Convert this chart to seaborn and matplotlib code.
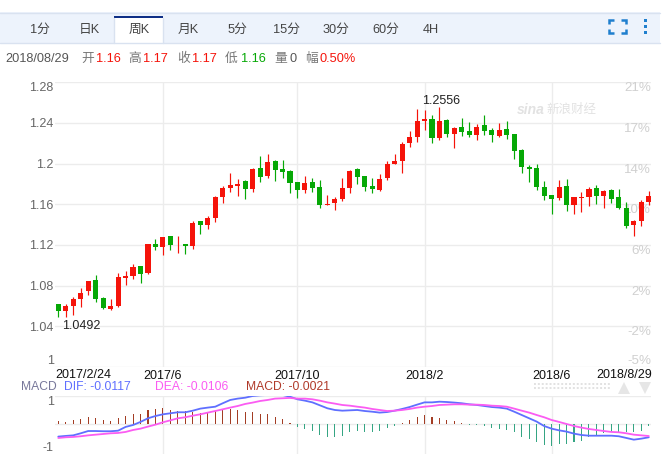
import matplotlib
matplotlib.use("Agg")
import matplotlib.pyplot as plt
from matplotlib.patches import Rectangle
import numpy as np
import seaborn as sns

# weekly candles, one entry per week
opens = [1.0616, 1.0547, 1.0596, 1.0665, 1.0744, 1.0852, 1.0675, 1.0567, 1.0596, 1.0872,
         1.0891, 1.0990, 1.0921, 1.1206, 1.1177, 1.1285, 1.1196, 1.1206, 1.1187, 1.1433,
         1.1393, 1.1462, 1.1669, 1.1757, 1.1778, 1.1827, 1.1748, 1.1954, 1.1876, 1.2023,
         1.1945, 1.1925, 1.1817, 1.1738, 1.1817, 1.1767, 1.1590, 1.1610, 1.1649, 1.1758,
         1.1945, 1.1876, 1.1777, 1.1738, 1.1856, 1.1994, 1.2023, 1.2200, 1.2260, 1.2417,
         1.2437, 1.2250, 1.2427, 1.2289, 1.2358, 1.2319, 1.2279, 1.2378, 1.2328, 1.2269,
         1.2338, 1.2289, 1.2132, 1.1964, 1.1954, 1.1767, 1.1689, 1.1659, 1.1777, 1.1590,
         1.1659, 1.1669, 1.1758, 1.1679, 1.1738, 1.1669, 1.1561, 1.1394, 1.1433, 1.1620]
closes = [1.0547, 1.0596, 1.0665, 1.0724, 1.0842, 1.0665, 1.0580, 1.0596, 1.0881, 1.0891,
          1.0980, 1.0911, 1.1206, 1.1177, 1.1275, 1.1196, 1.1203, 1.1187, 1.1413, 1.1393,
          1.1462, 1.1669, 1.1757, 1.1787, 1.1804, 1.1748, 1.1945, 1.1866, 1.2014, 1.1935,
          1.1915, 1.1807, 1.1738, 1.1807, 1.1758, 1.1590, 1.1607, 1.1649, 1.1758, 1.1925,
          1.1866, 1.1767, 1.1748, 1.1846, 1.1994, 1.2023, 1.2191, 1.2260, 1.2417, 1.2437,
          1.2250, 1.2417, 1.2289, 1.2348, 1.2309, 1.2279, 1.2358, 1.2319, 1.2279, 1.2328,
          1.2279, 1.2122, 1.1964, 1.1948, 1.1767, 1.1679, 1.1649, 1.1767, 1.1590, 1.1669,
          1.1669, 1.1748, 1.1679, 1.1728, 1.1649, 1.1561, 1.1384, 1.1433, 1.1620, 1.1679]
highs = [1.0622, 1.0622, 1.0691, 1.0773, 1.0842, 1.0901, 1.0685, 1.0668, 1.0927, 1.0944,
         1.1016, 1.0990, 1.1206, 1.1262, 1.1275, 1.1285, 1.1292, 1.1206, 1.1439, 1.1433,
         1.1482, 1.1679, 1.1777, 1.1905, 1.1846, 1.1836, 1.1961, 1.2073, 1.2092, 1.2033,
         1.2033, 1.1935, 1.1817, 1.1876, 1.1856, 1.1836, 1.1689, 1.1676, 1.1856, 1.1935,
         1.1961, 1.1876, 1.1856, 1.1895, 1.2023, 1.2092, 1.2214, 1.2322, 1.2538, 1.2525,
         1.2476, 1.2556, 1.2437, 1.2364, 1.2446, 1.2414, 1.2387, 1.2476, 1.2348, 1.2397,
         1.2417, 1.2289, 1.2141, 1.1984, 1.1994, 1.1827, 1.1689, 1.1836, 1.1846, 1.1669,
         1.1718, 1.1768, 1.1787, 1.1745, 1.1748, 1.1748, 1.1620, 1.1443, 1.1640, 1.1728]
lows = [1.0492, 1.0492, 1.0511, 1.0590, 1.0708, 1.0639, 1.0570, 1.0557, 1.0586, 1.0809,
        1.0862, 1.0826, 1.0911, 1.1147, 1.1098, 1.1154, 1.1124, 1.1108, 1.1160, 1.1305,
        1.1354, 1.1423, 1.1610, 1.1718, 1.1682, 1.1656, 1.1725, 1.1817, 1.1856, 1.1833,
        1.1856, 1.1712, 1.1663, 1.1712, 1.1725, 1.1567, 1.1590, 1.1548, 1.1630, 1.1708,
        1.1804, 1.1728, 1.1708, 1.1731, 1.1836, 1.1994, 1.1912, 1.2161, 1.2210, 1.2328,
        1.2200, 1.2230, 1.2260, 1.2151, 1.2269, 1.2260, 1.2237, 1.2279, 1.2210, 1.2260,
        1.2246, 1.2050, 1.1905, 1.1817, 1.1745, 1.1640, 1.1502, 1.1643, 1.1535, 1.1502,
        1.1522, 1.1581, 1.1600, 1.1567, 1.1610, 1.1551, 1.1364, 1.1292, 1.1384, 1.1590]

dif = [-.0111, -.0105, -.0100, -.0082, -.0062, -.0062, -.0064, -.0064, -.0059, -.0026,
       -.0009, .0018, .0050, .0070, .0085, .0094, .0103, .0103, .0117, .0135,
       .0144, .0152, .0182, .0211, .0223, .0231, .0246, .0252, .0255, .0255,
       .0255, .0240, .0217, .0205, .0190, .0164, .0138, .0123, .0117, .0120,
       .0123, .0114, .0108, .0100, .0105, .0117, .0132, .0149, .0170, .0190,
       .0190, .0196, .0193, .0188, .0182, .0173, .0167, .0158, .0149, .0144,
       .0135, .0108, .0079, .0050, .0021, -.0018, -.0041, -.0056, -.0067, -.0085,
       -.0097, -.0103, -.0103, -.0103, -.0103, -.0108, -.0123, -.0138, -.0129, -.0117]
dea = [-.0123, -.0117, -.0114, -.0108, -.0100, -.0094, -.0088, -.0082, -.0079, -.0070,
       -.0053, -.0041, -.0023, -.0006, .0015, .0032, .0050, .0059, .0073, .0085,
       .0100, .0114, .0129, .0144, .0158, .0176, .0188, .0202, .0211, .0223,
       .0226, .0229, .0223, .0223, .0217, .0205, .0190, .0179, .0167, .0161,
       .0152, .0144, .0132, .0123, .0114, .0117, .0123, .0132, .0144, .0152,
       .0158, .0167, .0170, .0173, .0173, .0170, .0170, .0167, .0161, .0158,
       .0152, .0135, .0117, .0100, .0079, .0059, .0035, .0018, .0000, -.0018,
       -.0032, -.0044, -.0053, -.0062, -.0070, -.0073, -.0082, -.0094, -.0100, -.0106]
macd = [.0023, .0021, .0035, .0041, .0064, .0053, .0035, .0026, .0053, .0070,
        .0085, .0091, .0120, .0129, .0138, .0126, .0114, .0111, .0103, .0097,
        .0097, .0111, .0123, .0129, .0126, .0105, .0105, .0091, .0085, .0064,
        .0044, .0006, -.0029, -.0044, -.0064, -.0094, -.0111, -.0117, -.0105, -.0073,
        -.0064, -.0070, -.0073, -.0062, -.0038, -.0021, .0009, .0035, .0062, .0076,
        .0059, .0056, .0038, .0026, .0006, -.0006, -.0009, -.0021, -.0038, -.0044,
        -.0050, -.0073, -.0111, -.0132, -.0161, -.0188, -.0193, -.0179, -.0176, -.0161,
        -.0147, -.0117, -.0103, -.0079, -.0073, -.0073, -.0073, -.0073, -.0059, -.0021]

price_ticks = [1.0, 1.04, 1.08, 1.12, 1.16, 1.2, 1.24, 1.28]
price_labels = ["1", "1.04", "1.08", "1.12", "1.16", "1.2", "1.24", "1.28"]
pct_labels = ["-5%", "-2%", "2%", "6%", "10%", "14%", "17%", "21%"]
date_ticks = [14, 32, 49, 66]
date_labels = ["2017/6", "2017/10", "2018/2", "2018/6"]
tabs = ["1分", "日K", "周K", "月K", "5分", "15分", "30分", "60分", "4H"]
tab_x = [40, 89, 139, 188, 237, 287, 336, 386, 431]

RED = "#f5130a"
GREEN = "#06a806"
GRID = "#ececec"
W, H = 667, 454


def panel(fig, left, top, right, bottom):
    return fig.add_axes([left / W, 1 - bottom / H, (right - left) / W, (bottom - top) / H])


def draw_toolbar(ui):
    ui.add_patch(Rectangle((0, 12), 660, 31, fc="#edf3fc", ec="none"))
    ui.plot([0, 660], [12.5, 12.5], color="#d9e2f0", lw=1)
    ui.plot([0, 660], [43, 43], color="#d9e2f0", lw=1)
    ui.add_patch(Rectangle((114, 16), 49, 28, fc="white", ec="none"))
    ui.add_patch(Rectangle((114, 16), 49, 2, fc="#0f2f86", ec="none"))
    ui.plot([114, 114], [18, 43], color="#d9e2f0", lw=1)
    ui.plot([163, 163], [18, 43], color="#d9e2f0", lw=1)
    for name, x in zip(tabs, tab_x):
        ui.text(x, 30, name, ha="center", va="center", fontsize=9.2, color="#444444")

    # fullscreen and menu icons
    blue = "#1f7fce"
    for xs, ys in [([609, 609, 614], [24, 20, 20]), ([621, 626, 626], [20, 20, 24]),
                   ([609, 609, 614], [29, 33, 33]), ([621, 626, 626], [33, 33, 29])]:
        ui.plot(xs, ys, color=blue, lw=1.8, solid_capstyle="butt", solid_joinstyle="miter")
    for y in [20.5, 26.5, 32.5]:
        ui.add_patch(Rectangle((643.5, y - 1.5), 3, 3, fc=blue, ec="none"))


def draw_quote_row(ui):
    row = [("2018/08/29", 5, "#555555"), ("开", 81, "#777777"), ("1.16", 96, RED),
           ("高", 128, "#777777"), ("1.17", 143, RED), ("收", 177, "#777777"), ("1.17", 192, RED),
           ("低", 225, "#777777"), ("1.16", 241, GREEN), ("量", 274, "#777777"), ("0", 289, "#555555"),
           ("幅", 305, "#777777"), ("0.50%", 319, RED)]
    for s, x, c in row:
        ui.text(x, 59, s, ha="left", va="center", fontsize=9.2, color=c)


def draw_candles(ax, x):
    colors = [RED if c >= o else GREEN for o, c in zip(opens, closes)]
    ax.vlines(x, lows, highs, colors=colors, lw=0.85, zorder=3)
    body = np.maximum(np.abs(np.array(closes) - np.array(opens)), 0.0008)
    ax.bar(x, body, bottom=np.minimum(opens, closes), width=0.68, color=colors, lw=0, zorder=4)


def style_price_axis(ax):
    ax.set_xlim(-0.44, 79.3)
    ax.set_ylim(1.0, 1.28)
    ax.set_yticks(price_ticks, price_labels)
    ax.set_xticks(date_ticks, date_labels)
    ax.grid(True, color=GRID, lw=1)
    ax.set_axisbelow(True)
    sns.despine(ax=ax, left=True, bottom=True, top=True, right=True)
    ax.tick_params(axis="y", length=0, pad=1, labelsize=9, labelcolor="#666666")
    ax.tick_params(axis="x", length=0, pad=2, labelsize=9, labelcolor="#111111")
    labels = ax.get_yticklabels()
    labels[0].set_va("bottom")
    labels[-1].set_va("top")
    trans = ax.get_yaxis_transform()
    for p, s in zip(price_ticks, pct_labels):
        ax.text(1.0, p, s, transform=trans, ha="right", va="bottom" if s == "-5%" else "top",
                fontsize=9.6, color="#d0d0d0", zorder=2)
    ax.text(0, -0.008, "2017/2/24", transform=ax.transAxes, ha="left", va="top",
            fontsize=9, color="#111111")
    ax.text(1.002, -0.008, "2018/8/29", transform=ax.transAxes, ha="right", va="top",
            fontsize=9, color="#111111", clip_on=False)
    ax.annotate("1.0492", (1, 1.0492), xytext=(-3, -2), textcoords="offset points",
                ha="left", va="top", fontsize=9, color="#222222")
    ax.annotate("1.2556", (51, 1.2556), xytext=(1, 0), textcoords="offset points",
                ha="center", va="bottom", fontsize=9, color="#222222")


def draw_macd(ax, x):
    sign = ["up" if m >= 0 else "down" for m in macd]
    sns.barplot(x=x, y=macd, hue=sign, palette={"up": "#b8300f", "down": "#22b88a"},
                native_scale=True, dodge=False, width=0.14, legend=False, lw=0, ax=ax, zorder=3)
    sns.lineplot(x=x, y=dif, color="#5f6fff", lw=1.3, ax=ax, zorder=4)
    sns.lineplot(x=x, y=dea, color="#fb5cf2", lw=1.3, ax=ax, zorder=5)
    ax.set_xlim(-0.44, 79.3)
    ax.set_ylim(-0.0264, 0.0246)
    ax.set_yticks([-0.0264, 0, 0.0246], ["-1", "", "1"])
    ax.set_xticks(date_ticks, [])
    ax.grid(True, color=GRID, lw=1)
    ax.set_axisbelow(True)
    ax.set_xlabel("")
    ax.set_ylabel("")
    sns.despine(ax=ax, left=True, bottom=True, top=True, right=True)
    ax.tick_params(length=0, pad=1, labelsize=9, labelcolor="#666666")
    labels = ax.get_yticklabels()
    labels[0].set_va("bottom")
    labels[-1].set_va("top")
    ax.yaxis.get_gridlines()[0].set_visible(False)


def draw_legend(ui):
    for s, x, c in [("MACD", 21, "#77779a"), ("DIF: -0.0117", 64, "#5f6fff"),
                    ("DEA: -0.0106", 155, "#fb5cf2"), ("MACD: -0.0021", 246, "#b03a2a")]:
        ui.text(x, 387.5, s, ha="left", va="center", fontsize=8.7, color=c)
    # range slider remains under the date row
    ui.plot([534, 610], [384, 384], color="#e2e2e2", lw=1.4, ls=(0, (1, 1)))
    ui.plot([534, 610], [388, 388], color="#e2e2e2", lw=1.4, ls=(0, (1, 1)))
    ui.plot([624], [387.5], marker="^", ms=8, color="#e6e6e6", mew=0)
    ui.plot([645], [387.5], marker="v", ms=8, color="#e6e6e6", mew=0)


def draw_watermark(ui):
    ui.text(517, 110, "sina", ha="left", va="center", fontsize=10, fontweight="bold",
            style="italic", color="#e2e2e2", zorder=1)
    ui.text(546, 110, "新浪财经", ha="left", va="center", fontsize=9, style="italic",
            color="#e2e2e2", zorder=1)


if __name__ == "__main__":
    sns.set_theme(style="white")
    plt.rcParams["font.family"] = ["Liberation Sans", "Noto Sans CJK SC", "DejaVu Sans"]

    fig = plt.figure(figsize=(W / 100, H / 100), dpi=100, facecolor="white")

    ui = fig.add_axes([0, 0, 1, 1], zorder=0)
    ui.set_xlim(0, W)
    ui.set_ylim(H, 0)
    ui.axis("off")

    weeks = np.arange(len(opens))

    ax_price = panel(fig, 55, 82.3, 651, 367)
    ax_price.patch.set_alpha(0)
    ax_price.set_zorder(2)
    style_price_axis(ax_price)
    draw_candles(ax_price, weeks)

    ax_macd = panel(fig, 55, 396, 651, 454)
    ax_macd.patch.set_alpha(0)
    ax_macd.set_zorder(2)
    draw_macd(ax_macd, weeks)

    draw_toolbar(ui)
    draw_quote_row(ui)
    draw_legend(ui)
    draw_watermark(ui)

    fig.savefig("out.png", dpi=100)
